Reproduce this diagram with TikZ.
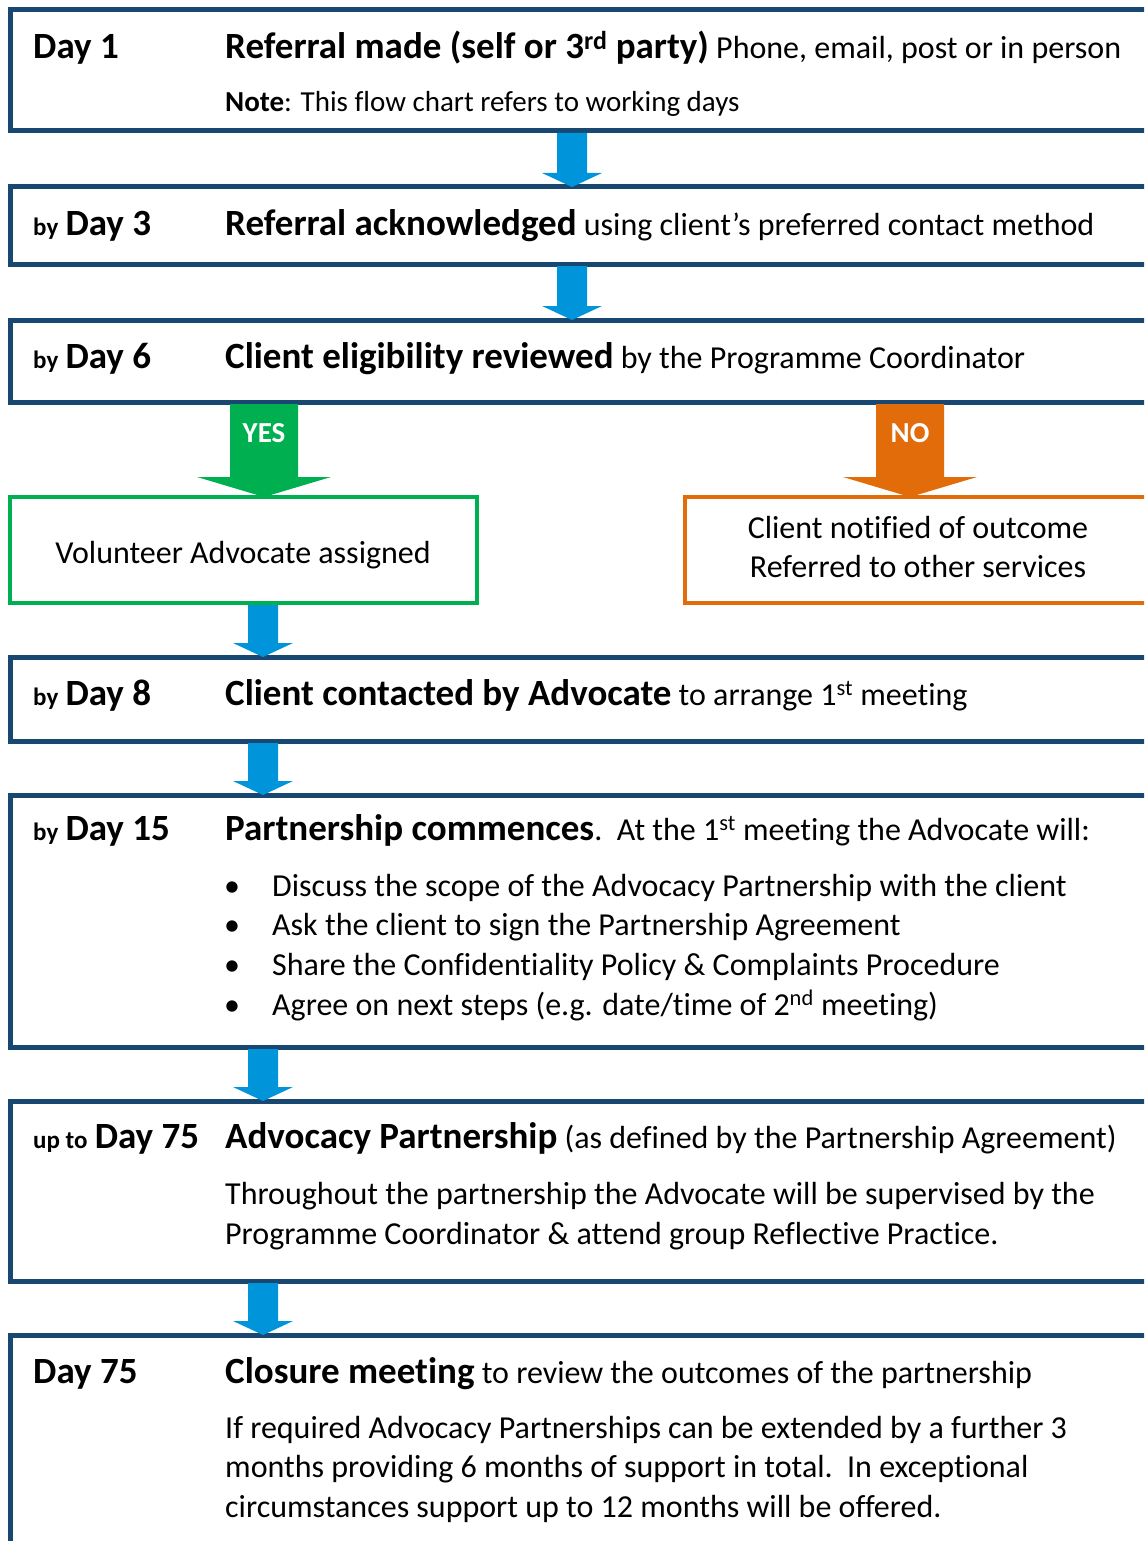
\documentclass[tikz,border=0pt]{standalone}
\usepackage{fontspec}
\setmainfont{Carlito}[Ligatures=NoCommon]
\usepackage{xcolor}
\usepackage{tikz}
\usetikzlibrary{calc}

\definecolor{framecol}{RGB}{24,72,114}
\definecolor{arrowcol}{RGB}{0,149,218}
\definecolor{yescol}{RGB}{0,176,80}
\definecolor{nocol}{RGB}{227,108,10}

\newcommand{\hd}[1]{{\fontsize{37}{44}\selectfont\bfseries #1}}
\newcommand{\by}[1]{{\fontsize{25}{30}\selectfont\bfseries #1}}
% colour, x, from node, to node, shaft half width, head half width, head length
\newcommand{\blockarrow}[7]{%
\fill[#1] ($(#2-#5,0 |- #3.south)+(0,2)$) -- ($(#2+#5,0 |- #3.south)+(0,2)$)
 -- ($(#2+#5,0 |- #4.north)+(0,-#7)$) -- ($(#2+#6,0 |- #4.north)+(0,-#7)$)
 -- (#2,0 |- #4.north) -- ($(#2-#6,0 |- #4.north)+(0,-#7)$)
 -- ($(#2-#5,0 |- #4.north)+(0,-#7)$) -- cycle;}

\tikzset{
stage/.style={draw=framecol, line width=5, minimum width=1200, anchor=north west, inner sep=0, outer sep=0},
outcome/.style={line width=4, anchor=north west, minimum height=106, inner sep=0, outer sep=0},
txt/.style={anchor=base west, inner sep=0, align=left, font=\fontsize{32}{39.3}\selectfont},
lbl/.style={anchor=base west, inner sep=0, font=\fontsize{32}{39}\selectfont},
tag/.style={text=white, inner sep=0, font=\fontsize{29}{35}\selectfont\bfseries}
}

\begin{document}
\begin{tikzpicture}[x=1pt,y=-1pt]
\useasboundingbox (0,0) rectangle (1144,1541);
\clip (0,0) rectangle (1144,1541);

\node[stage, minimum height=121] (b1) at (10,10) {};
\node[stage, minimum height=77] (b2) at (10,187) {};
\node[stage, minimum height=82] (b3) at (10,320) {};
\node[outcome, draw=yescol, minimum width=467] (yesbox) at (10,497) {};
\node[outcome, draw=nocol, minimum width=600] (nobox) at (685,497) {};
\node[stage, minimum height=84] (b4) at (10,657) {};
\node[stage, minimum height=252] (b5) at (10,795) {};
\node[stage, minimum height=180] (b6) at (10,1101) {};
\node[stage, minimum height=300] (b7) at (10,1335) {};

\blockarrow{arrowcol}{572}{b1}{b2}{15}{30}{14}
\blockarrow{arrowcol}{572}{b2}{b3}{15}{30}{14}
\blockarrow{yescol}{264}{b3}{yesbox}{34}{67}{20}
\blockarrow{nocol}{910}{b3}{nobox}{34}{67}{20}
\blockarrow{arrowcol}{263}{yesbox}{b4}{15}{30}{14}
\blockarrow{arrowcol}{263}{b4}{b5}{15}{30}{14}
\blockarrow{arrowcol}{263}{b5}{b6}{15}{30}{14}
\blockarrow{arrowcol}{263}{b6}{b7}{15}{30}{14}

\node[tag] (yes) at (264,433) {YES};
\node[tag] (no) at (910,433) {NO};

\node[lbl] (d1) at (33,59) {\hd{Day 1}};
\node[txt] (t1) at (225,59) {\hd{Referral made (self or 3\textsuperscript{rd} party)} Phone, email, post or in person};
\node[txt, font=\fontsize{29}{36}\selectfont] (n1) at (225,112) {\textbf{Note}: This flow chart refers to working days};

\node[lbl] (d3) at (33,235) {\by{by} \hd{Day 3}};
\node[txt] (t2) at (225,235) {\hd{Referral acknowledged} using client’s preferred contact method};

\node[lbl] (d6) at (33,368) {\by{by} \hd{Day 6}};
\node[txt] (t3) at (225,368) {\hd{Client eligibility reviewed} by the Programme Coordinator};

\node[txt, align=center, anchor=center] (vol) at (243,555) {Volunteer Advocate assigned};
\node[txt, align=center, anchor=center] (notif) at (918,547) {Client notified of outcome\\Referred to other services};

\node[lbl] (d8) at (33,705) {\by{by} \hd{Day 8}};
\node[txt] (t4) at (225,705) {\hd{Client contacted by Advocate} to arrange 1\textsuperscript{st} meeting};

\node[lbl] (d15) at (33,840) {\by{by} \hd{Day 15}};
\node[txt] (t5) at (225,840) {\hd{Partnership commences}.\ \ At the 1\textsuperscript{st} meeting the Advocate will:};
\node[txt, font=\fontsize{32}{39.6}\selectfont] (dots) at (224,1015) {•\\•\\•\\•};
\node[txt, font=\fontsize{32}{39.6}\selectfont] (list) at (272,1015) {Discuss the scope of the Advocacy Partnership with the client\\
Ask the client to sign the Partnership Agreement\\
Share the Confidentiality Policy \& Complaints Procedure\\
Agree on next steps (e.g. date/time of 2\textsuperscript{nd} meeting)};

\node[lbl] (d75a) at (33,1148) {\by{up to} \hd{Day 75}};
\node[txt] (t6) at (225,1148) {\hd{Advocacy Partnership} (as defined by the Partnership Agreement)};
\node[txt] (p6) at (225,1244) {Throughout the partnership the Advocate will be supervised by the\\
Programme Coordinator \& attend group Reflective Practice.};

\node[lbl] (d75b) at (33,1383) {\hd{Day 75}};
\node[txt] (t7) at (225,1383) {\hd{Closure meeting} to review the outcomes of the partnership};
\node[txt] (p7) at (225,1517) {If required Advocacy Partnerships can be extended by a further 3\\
months providing 6 months of support in total.\ \ In exceptional\\
circumstances support up to 12 months will be offered.};
\end{tikzpicture}
\end{document}
